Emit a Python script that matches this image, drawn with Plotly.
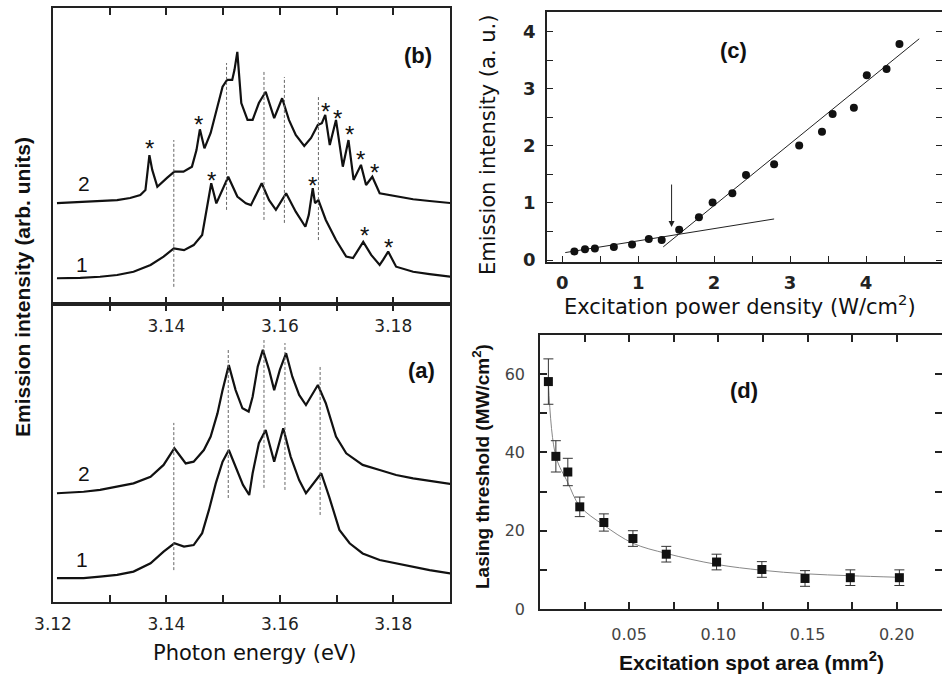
import plotly.graph_objects as go

# ---------------- Panel (b): lasing spectra (arb. units, 0-100 panel scale) ----------------
b2_E = [3.1207, 3.1248, 3.1283, 3.1313, 3.1336, 3.1354, 3.1363, 3.1370, 3.1375, 3.1384, 3.1401, 3.1414,
        3.1430, 3.1445, 3.1453, 3.1459, 3.1467, 3.1478, 3.1490, 3.1499, 3.1507, 3.1516, 3.1520, 3.1525,
        3.1532, 3.1543, 3.1552, 3.1563, 3.1575, 3.1590, 3.1604, 3.1616, 3.1628, 3.1643, 3.1655, 3.1667,
        3.1674, 3.1680, 3.1688, 3.1699, 3.1711, 3.1721, 3.1730, 3.1743, 3.1752, 3.1763, 3.1776, 3.1805,
        3.1835, 3.1864, 3.1894, 3.1901]
b2_I = [34.1, 34.5, 34.8, 35.1, 35.8, 36.8, 38.5, 50.3, 45.3, 39.6, 42.6, 44.7,
        44.7, 46.4, 52.0, 59.0, 52.6, 57.8, 66.7, 73.4, 75.7, 75.7, 79.1, 85.2,
        67.9, 62.2, 62.2, 67.9, 71.7, 62.8, 69.5, 62.2, 57.1, 53.4, 56.1, 60.5,
        61.1, 63.9, 53.7, 62.2, 46.4, 55.4, 41.9, 47.0, 40.2, 43.0, 37.4, 36.3,
        35.4, 34.8, 34.2, 34.1]
b1_E = [3.1207, 3.1248, 3.1283, 3.1313, 3.1342, 3.1372, 3.1395, 3.1413, 3.1431, 3.1448, 3.1463, 3.1472,
        3.1479, 3.1488, 3.1499, 3.1509, 3.1525, 3.1540, 3.1549, 3.1568, 3.1581, 3.1593, 3.1611, 3.1628,
        3.1645, 3.1651, 3.1658, 3.1662, 3.1668, 3.1681, 3.1699, 3.1717, 3.1729, 3.1738, 3.1747, 3.1761,
        3.1776, 3.1782, 3.1791, 3.1805, 3.1835, 3.1864, 3.1901]
b1_I = [8.7, 8.8, 9.2, 9.8, 10.9, 13.2, 16.0, 18.8, 18.2, 19.9, 23.3, 32.9,
        40.8, 34.0, 38.5, 43.0, 36.3, 34.0, 33.4, 40.8, 35.1, 31.8, 37.4, 31.2,
        26.1, 30.1, 39.1, 34.1, 35.1, 28.4, 21.6, 16.0, 15.5, 18.2, 21.0, 16.6,
        13.2, 14.9, 17.7, 12.6, 10.9, 10.1, 9.2]

# ---------------- Panel (a): spontaneous spectra ----------------
a2_E = [3.1207, 3.1254, 3.1283, 3.1313, 3.1342, 3.1372, 3.1395, 3.1414, 3.1434, 3.1448, 3.1466, 3.1478,
        3.1490, 3.1499, 3.1510, 3.1522, 3.1534, 3.1545, 3.1552, 3.1561, 3.1570, 3.1581, 3.1590, 3.1600,
        3.1611, 3.1622, 3.1634, 3.1646, 3.1657, 3.1667, 3.1681, 3.1699, 3.1717, 3.1746, 3.1776, 3.1805,
        3.1835, 3.1864, 3.1901]
a2_I = [36.5, 37.0, 37.6, 38.7, 39.8, 42.0, 46.0, 51.6, 46.5, 47.1, 51.0, 55.5,
        63.3, 71.1, 79.5, 71.1, 65.0, 63.9, 68.9, 79.0, 84.6, 77.9, 71.1, 77.9,
        83.5, 75.6, 69.5, 66.1, 69.5, 72.8, 66.7, 55.5, 49.9, 46.0, 44.3, 42.6,
        41.5, 40.6, 39.6]
a1_E = [3.1207, 3.1254, 3.1283, 3.1313, 3.1342, 3.1372, 3.1395, 3.1414, 3.1431, 3.1448, 3.1463, 3.1475,
        3.1487, 3.1499, 3.1510, 3.1525, 3.1535, 3.1546, 3.1552, 3.1563, 3.1575, 3.1590, 3.1606, 3.1619,
        3.1634, 3.1646, 3.1660, 3.1673, 3.1687, 3.1705, 3.1723, 3.1746, 3.1776, 3.1805, 3.1835, 3.1864,
        3.1901]
a1_I = [8.0, 8.0, 8.5, 9.1, 10.2, 13.0, 16.9, 19.7, 18.6, 19.1, 23.1, 30.9,
        39.8, 47.1, 51.0, 44.3, 39.3, 35.9, 43.2, 53.3, 57.7, 47.1, 58.3, 48.8,
        40.9, 36.5, 39.9, 43.2, 35.3, 24.2, 19.7, 16.3, 14.1, 13.0, 11.8, 10.7,
        9.6]

# mode guide lines
b_dash_E = [3.1413, 3.1506, 3.1572, 3.1608, 3.1668]
b_dash_lo = [5.8, 31.8, 28.4, 27.4, 21.6]
b_dash_hi = [55.4, 81.4, 78.4, 76.7, 70.6]
a_dash_E = [3.1413, 3.1509, 3.1572, 3.1609, 3.1671]
a_dash_lo = [10.7, 34.9, 38.3, 37.6, 29.2]
a_dash_hi = [60.1, 84.6, 87.9, 86.9, 78.9]

# asterisks marking lasing modes in (b)
star_E = [3.1370, 3.1456, 3.1479, 3.1657, 3.1681, 3.1702, 3.1723, 3.1743, 3.1766, 3.1749, 3.1791]
star_I = [54.5, 62.7, 43.9, 41.9, 67.2, 64.6, 59.4, 50.7, 46.4, 25.2, 21.0]

# curve labels
b_lab_text = ["2", "1"]
b_lab_E = [3.1254, 3.1251]
b_lab_I = [40.8, 13.2]
a_lab_text = ["2", "1"]
a_lab_E = [3.1254, 3.1251]
a_lab_I = [43.2, 14.1]

b_tickvals = [3.14, 3.16, 3.18]
b_ticktext = ["3.14", "3.16", "3.18"]
a_tickvals = [3.12, 3.14, 3.16, 3.18]
a_ticktext = ["3.12", "3.14", "3.16", "3.18"]

# ---------------- Panel (c) ----------------
c_x = [0.16, 0.30, 0.43, 0.68, 0.92, 1.14, 1.31, 1.54, 1.80, 1.98, 2.24, 2.42, 2.79, 3.12, 3.42, 3.56,
       3.84, 4.01, 4.27, 4.44]
c_y = [0.15, 0.19, 0.20, 0.23, 0.27, 0.37, 0.35, 0.53, 0.75, 1.01, 1.17, 1.49, 1.68, 2.01, 2.25, 2.56,
       2.67, 3.24, 3.35, 3.79]
c_fit1_x = [0.04, 2.79]
c_fit1_y = [0.13, 0.72]
c_fit2_x = [1.33, 4.70]
c_fit2_y = [0.23, 3.88]
c_arrow_x = 1.44
c_arrow_from = 1.35
c_arrow_to = 0.58
c_ticks = [0, 1, 2, 3, 4]

# ---------------- Panel (d) ----------------
d_x = [0.0047, 0.0089, 0.0156, 0.0223, 0.0358, 0.0521, 0.0708, 0.0990, 0.1244, 0.1486, 0.1740, 0.2015]
d_y = [58.1, 39.0, 35.0, 26.1, 22.1, 18.0, 14.0, 12.0, 10.1, 7.8, 8.0, 8.0]
d_err = [5.8, 4.0, 3.5, 2.5, 2.2, 2.0, 2.0, 2.0, 2.0, 2.0, 2.0, 2.0]
d_fit_x = [0.0047, 0.0089, 0.0156, 0.0223, 0.0358, 0.0521, 0.0708, 0.0990, 0.1244, 0.1486, 0.1740, 0.2015]
d_fit_y = [58.0, 39.0, 32.3, 26.3, 21.4, 16.8, 14.2, 11.4, 9.9, 9.0, 8.5, 8.1]
d_xticks = [0.05, 0.10, 0.15, 0.20]
d_yticks = [0, 20, 40, 60]

W, H = 942, 676
def px_x(p):
    return p / W
def px_y(p):
    return 1 - p / H

fig = go.Figure()

line_col = "#111111"
# spectra
for E, I, xa, ya in [(b2_E, b2_I, "x2", "y2"), (b1_E, b1_I, "x2", "y2"),
                     (a2_E, a2_I, "x", "y"), (a1_E, a1_I, "x", "y")]:
    fig.add_trace(go.Scatter(x=E, y=I, mode="lines", line=dict(color=line_col, width=2.2),
                             xaxis=xa, yaxis=ya, showlegend=False))

def dash_xy(E, lo, hi):
    xs, ys = [], []
    for e, l, h in zip(E, lo, hi):
        xs += [e, e, None]
        ys += [l, h, None]
    return xs, ys

dx, dy = dash_xy(b_dash_E, b_dash_lo, b_dash_hi)
fig.add_trace(go.Scatter(x=dx, y=dy, mode="lines", line=dict(color="#666666", width=1, dash="3px,2px"),
                         xaxis="x2", yaxis="y2", showlegend=False))
dx, dy = dash_xy(a_dash_E, a_dash_lo, a_dash_hi)
fig.add_trace(go.Scatter(x=dx, y=dy, mode="lines", line=dict(color="#666666", width=1, dash="3px,2px"),
                         xaxis="x", yaxis="y", showlegend=False))

# panel c
fig.add_trace(go.Scatter(x=c_fit1_x, y=c_fit1_y, mode="lines", line=dict(color="#222222", width=1),
                         xaxis="x3", yaxis="y3", showlegend=False))
fig.add_trace(go.Scatter(x=c_fit2_x, y=c_fit2_y, mode="lines", line=dict(color="#222222", width=1),
                         xaxis="x3", yaxis="y3", showlegend=False))
fig.add_trace(go.Scatter(x=c_x, y=c_y, mode="markers", marker=dict(color="#111111", size=8),
                         xaxis="x3", yaxis="y3", showlegend=False))

# panel d
fig.add_trace(go.Scatter(x=d_fit_x, y=d_fit_y, mode="lines", line=dict(color="#888888", width=1, shape="spline"),
                         xaxis="x4", yaxis="y4", showlegend=False))
fig.add_trace(go.Scatter(x=d_x, y=d_y, mode="markers",
                         marker=dict(color="#111111", size=9, symbol="square"),
                         error_y=dict(type="data", array=d_err, visible=True, color="#333333",
                                      thickness=1, width=5),
                         xaxis="x4", yaxis="y4", showlegend=False))

frame = dict(showline=True, linecolor="#222222", linewidth=1.5, showgrid=False, zeroline=False)
lx = [px_x(53), px_x(450)]
tick_font_l = dict(family="DejaVu Sans", size=17, color="#222222")
minor_l = dict(dtick=0.01, tick0=3.12, ticks="inside", ticklen=7, tickwidth=1.5, tickcolor="#222222")

layout = dict(
    width=W, height=H, margin=dict(l=0, r=0, t=0, b=0, autoexpand=False), autosize=False,
    paper_bgcolor="white", plot_bgcolor="white", showlegend=False,
    # panel (a)
    xaxis=dict(domain=lx, anchor="y", range=[3.12, 3.19], tickmode="array",
               tickvals=a_tickvals, ticktext=a_ticktext, ticks="inside", ticklen=7,
               tickwidth=1.5, tickcolor="#222222", mirror="ticks", tickfont=tick_font_l,
               minor=minor_l, ticklabelstandoff=6, **frame),
    yaxis=dict(domain=[px_y(602), px_y(304)], anchor="x", range=[0, 100], showticklabels=False,
               ticks="", mirror=True, **frame),
    # panel (b)
    xaxis2=dict(domain=lx, anchor="y2", range=[3.12, 3.19], tickmode="array",
                tickvals=b_tickvals, ticktext=b_ticktext, ticks="inside", ticklen=7,
                tickwidth=1.5, tickcolor="#222222", mirror="ticks", tickfont=tick_font_l,
                minor=minor_l, ticklabelstandoff=6, **frame),
    yaxis2=dict(domain=[px_y(304), px_y(8)], anchor="x2", range=[0, 100], showticklabels=False,
                ticks="", mirror=True, **frame),
    # panel (c)
    xaxis3=dict(domain=[px_x(547), 1.0], anchor="y3", range=[-0.2, 5.0], tickmode="array",
                tickvals=c_ticks, ticks="inside", ticklen=6, tickwidth=1.2, tickcolor="#222222",
                minor=dict(dtick=0.5, tick0=0, ticks="inside", ticklen=6, tickwidth=1.2, tickcolor="#222222"),
                mirror=True, tickfont=dict(family="DejaVu Sans", size=18, color="#222222", weight="bold"),
                ticklabelstandoff=4, **frame),
    yaxis3=dict(domain=[px_y(262), px_y(12)], anchor="x3", range=[-0.035, 4.35], tickmode="array",
                tickvals=c_ticks, ticks="inside", ticklen=6, tickwidth=1.2, tickcolor="#222222",
                minor=dict(dtick=0.5, tick0=0, ticks="inside", ticklen=6, tickwidth=1.2, tickcolor="#222222"),
                mirror="ticks", tickfont=dict(family="DejaVu Sans", size=18, color="#222222", weight="bold"),
                ticklabelstandoff=6, **frame),
    # panel (d)
    xaxis4=dict(domain=[px_x(540), 1.0], anchor="y4", range=[0, 0.2254], tickmode="array",
                tickvals=d_xticks, tickformat=".2f", ticks="inside", ticklen=7, tickwidth=1.5,
                tickcolor="#222222",
                minor=dict(dtick=0.025, tick0=0, ticks="inside", ticklen=7, tickwidth=1.5, tickcolor="#222222"),
                mirror="ticks", tickfont=dict(family="DejaVu Sans", size=16, color="#444444"),
                ticklabelstandoff=10, **frame),
    yaxis4=dict(domain=[px_y(609), px_y(335)], anchor="x4", range=[0, 70], tickmode="array",
                tickvals=d_yticks, ticks="inside", ticklen=7, tickwidth=1.5, tickcolor="#222222",
                minor=dict(dtick=10, tick0=0, ticks="inside", ticklen=7, tickwidth=1.5, tickcolor="#222222"),
                mirror="ticks", tickfont=dict(family="DejaVu Sans", size=16, color="#444444"),
                ticklabelstandoff=10, **frame),
)
fig.update_layout(**layout)

C = dict(xanchor="center", yanchor="middle", showarrow=False)
ann = []
# asterisks
for e, i in zip(star_E, star_I):
    ann.append(dict(x=e, y=i, xref="x2", yref="y2", text="*", yshift=-6,
                    font=dict(family="Liberation Sans", size=24, color="#111111"), **C))
for t, e, i in zip(b_lab_text, b_lab_E, b_lab_I):
    ann.append(dict(x=e, y=i, xref="x2", yref="y2", text=t,
                    font=dict(family="Liberation Sans", size=21, color="#111111"), **C))
for t, e, i in zip(a_lab_text, a_lab_E, a_lab_I):
    ann.append(dict(x=e, y=i, xref="x", yref="y", text=t,
                    font=dict(family="Liberation Sans", size=21, color="#111111"), **C))
bold22 = dict(family="Liberation Sans", size=22, color="#111111", weight="bold")
ann.append(dict(x=px_x(418), y=px_y(55), xref="paper", yref="paper", text="(b)", font=bold22, **C))
ann.append(dict(x=px_x(421), y=px_y(370), xref="paper", yref="paper", text="(a)", font=bold22, **C))
ann.append(dict(x=2.25, y=3.68, xref="x3", yref="y3", text="(c)", font=bold22, **C))
ann.append(dict(x=0.1145, y=55.8, xref="x4", yref="y4", text="(d)", font=bold22, **C))
# arrow in (c)
ann.append(dict(x=c_arrow_x, y=c_arrow_to, ax=c_arrow_x, ay=c_arrow_from, xref="x3", yref="y3",
                axref="x3", ayref="y3", text="", showarrow=True, arrowhead=2, arrowsize=1.2,
                arrowwidth=1, arrowcolor="#222222"))
# axis titles
ann.append(dict(x=px_x(22), y=px_y(287), xref="paper", yref="paper", text="Emission intensity (arb. units)",
                textangle=-90, font=dict(family="Liberation Sans", size=21, color="#111111", weight="bold"), **C))
ann.append(dict(x=px_x(254), y=px_y(653), xref="paper", yref="paper", text="Photon energy (eV)",
                font=dict(family="DejaVu Sans", size=21, color="#111111"), **C))
ann.append(dict(x=px_x(740), y=px_y(305), xref="paper", yref="paper",
                text="Excitation power density (W/cm<sup>2</sup>)",
                font=dict(family="DejaVu Sans", size=21, color="#111111"), **C))
ann.append(dict(x=px_x(488), y=px_y(145), xref="paper", yref="paper", text="Emission intensity (a. u.)",
                textangle=-90, font=dict(family="DejaVu Sans", size=21, color="#111111"), **C))
ann.append(dict(x=px_x(751), y=px_y(661), xref="paper", yref="paper",
                text="Excitation spot area (mm<sup>2</sup>)",
                font=dict(family="Liberation Sans", size=21, color="#111111", weight="bold"), **C))
ann.append(dict(x=px_x(481), y=px_y(467), xref="paper", yref="paper",
                text="Lasing threshold (MW/cm<sup>2</sup>)", textangle=-90,
                font=dict(family="Liberation Sans", size=19, color="#111111", weight="bold"), **C))
fig.update_layout(annotations=ann)

fig.write_html("out.html", config={"displayModeBar": False},
               post_script="document.body.style.margin='0';document.body.style.overflow='hidden';")
